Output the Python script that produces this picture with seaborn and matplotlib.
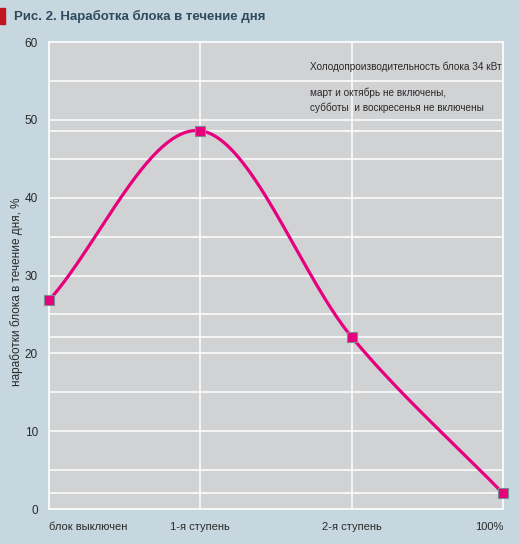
import numpy as np
import matplotlib
matplotlib.use("Agg")
import matplotlib.pyplot as plt
import seaborn as sns

# -------------------------
# Data
# -------------------------
categories = ["блок выключен", "1-я ступень", "2-я ступень", "100%"]
hours_share = [26.8, 48.6, 22.1, 2.0]
y_ticks = [0, 10, 20, 30, 40, 50, 60]

title = "Рис. 2. Наработка блока в течение дня"
y_label = "наработки блока в течение дня, %"
note_power = "Холодопроизводительность блока 34 кВт"
note_period = "март и октябрь не включены,\nсубботы  и воскресенья не включены"

# -------------------------
# Style
# -------------------------
sns.set_theme(style="white")
plt.rcParams['font.family'] = ['Liberation Sans', 'DejaVu Sans']

bg = "#c6d7df"
panel = "#d1d2d4"
pink = "#e6007e"
ink = "#2a2a2a"

fig = plt.figure(figsize=(5.2, 5.44), dpi=100, facecolor=bg)
ax = fig.add_axes([49 / 520, 35 / 544, 454 / 520, 467 / 544])
ax.set_facecolor(panel)

x = np.arange(len(categories), dtype=float)
y = np.array(hours_share)

# smoothed line: cubic Hermite through the points, tangents from np.gradient
m = np.gradient(y, x)
xs, ys = [], []
for i in range(len(x) - 1):
    t = np.linspace(0, 1, 80)
    h00 = 2 * t**3 - 3 * t**2 + 1
    h10 = t**3 - 2 * t**2 + t
    h01 = -2 * t**3 + 3 * t**2
    h11 = t**3 - t**2
    dx = x[i + 1] - x[i]
    xs.append(x[i] + t * dx)
    ys.append(h00 * y[i] + h10 * dx * m[i] + h01 * y[i + 1] + h11 * dx * m[i + 1])
xs = np.concatenate(xs)
ys = np.concatenate(ys)

# grid: every 5 units plus levels of the data points
for lvl in np.arange(5, 60, 5):
    ax.axhline(lvl, color="white", lw=1.1, zorder=1)
for lvl in hours_share[1:]:
    ax.axhline(lvl, color="white", lw=1.1, zorder=1)
for xi in x[1:-1]:
    ax.axvline(xi, color="white", lw=1.1, zorder=1)

ax.plot(xs, ys, color=pink, lw=2.3, zorder=3, solid_capstyle="round")
sns.scatterplot(x=x, y=y, ax=ax, marker="s", s=42, color=pink,
                edgecolor="#7f8a90", linewidth=0.8, zorder=4, clip_on=False)

ax.set_xlim(0, 3)
ax.set_ylim(0, 60)
for side in ["left", "bottom", "right", "top"]:
    ax.spines[side].set_color("white")
    ax.spines[side].set_linewidth(1.2)
    ax.spines[side].set_visible(True)

ax.set_yticks(y_ticks)
ax.set_yticklabels([str(v) for v in y_ticks], fontsize=8.5, color=ink)
ax.tick_params(axis="y", length=0, pad=8)
ax.set_xticks(x)
ax.set_xticklabels(categories, fontsize=8, color=ink)
ax.tick_params(axis="x", length=0, pad=9)
labels = ax.get_xticklabels()
labels[0].set_horizontalalignment("left")
labels[-1].set_horizontalalignment("right")

fig.text(17 / 520, 1 - 292 / 544, y_label, rotation=90, ha="center", va="center",
         fontsize=8.5, color=ink)

ax.text(0.575, 0.946, note_power, transform=ax.transAxes, fontsize=7.2, color=ink,
        va="center", ha="left")
ax.text(0.575, 0.875, note_period, transform=ax.transAxes, fontsize=7.2, color=ink,
        va="center", ha="left", linespacing=1.45)

# title with red marker
fig.patches.append(plt.Rectangle((0, 1 - 24 / 544), 5 / 520, 16 / 544, transform=fig.transFigure,
                                 color="#c0141e", figure=fig))
fig.text(14 / 520, 1 - 16 / 544, title, fontsize=9.5, fontweight="bold",
         color="#2f4a5e", ha="left", va="center")

fig.savefig("out.png", dpi=100, facecolor=bg)
